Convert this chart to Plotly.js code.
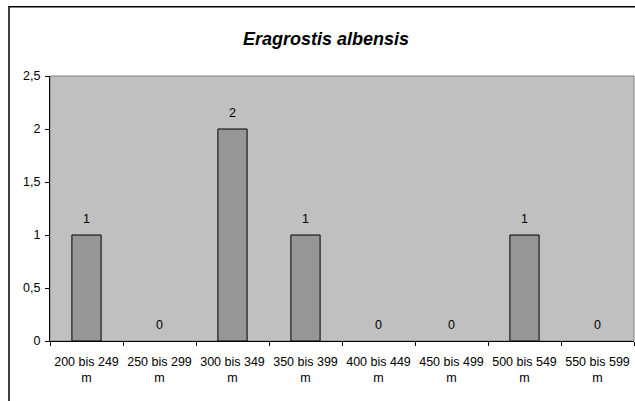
<!DOCTYPE html>
<html>
<head>
<meta charset="utf-8">
<script src="https://cdn.plot.ly/plotly-3.0.1.min.js"></script>
<style>html,body{margin:0;padding:0;background:#fff;}#chart{width:635px;height:401px;}</style>
</head>
<body>
<div id="chart"></div>
<script>
const categories = ["200 bis 249<br>m","250 bis 299<br>m","300 bis 349<br>m","350 bis 399<br>m","400 bis 449<br>m","450 bis 499<br>m","500 bis 549<br>m","550 bis 599<br>m"];
const counts = [1, 0, 2, 1, 0, 0, 1, 0];
const titleText = "Eragrostis albensis";

const font = {family: "Liberation Sans, Arial, sans-serif", size: 12.5, color: "#000"};

const trace = {
  type: "bar",
  x: categories,
  y: counts,
  width: 0.4,
  marker: {color: "#969696", line: {color: "#000", width: counts.map(v => v > 0 ? 1 : 0)}},
  hoverinfo: "none"
};

const annotations = categories.map((c, i) => ({
  x: c, y: counts[i], xref: "x", yref: "y",
  text: String(counts[i]), showarrow: false,
  yanchor: "bottom", yshift: 7,
  font: font
}));

const layout = {
  width: 635, height: 401,
  margin: {l: 50, r: 1, t: 76, b: 60, pad: 0},
  paper_bgcolor: "#fff",
  plot_bgcolor: "#C0C0C0",
  separators: ",.",
  showlegend: false,
  font: font,
  title: {
    text: "<b><i>" + titleText + "</i></b>",
    font: {family: "Liberation Sans, Arial, sans-serif", size: 18, color: "#000"},
    x: 326/635, xanchor: "center", xref: "container",
    y: 1 - 39/401, yanchor: "middle", yref: "container"
  },
  xaxis: {
    type: "category",
    showgrid: false, zeroline: false,
    showline: true, linecolor: "#000", linewidth: 1,
    ticks: "outside", tickson: "boundaries", ticklen: 4, tickcolor: "#000",
    tickfont: font, tickangle: 0, ticklabelstandoff: 9,
    range: [-0.5, 7.5]
  },
  yaxis: {
    range: [0, 2.5], dtick: 0.5, tick0: 0,
    showgrid: false, zeroline: false,
    showline: true, linecolor: "#000", linewidth: 1,
    ticks: "outside", ticklen: 4, tickcolor: "#000",
    tickfont: font, ticklabelstandoff: 2
  },
  annotations: annotations,
  shapes: [
    {type: "rect", xref: "paper", yref: "paper", x0: 0, x1: 1, y0: 0, y1: 1,
     line: {color: "#808080", width: 1}, layer: "below"},
    {type: "rect", xref: "paper", yref: "paper",
     x0: (9 - 50) / 584, x1: (645 - 50) / 584,
     y0: (341 - 410) / 265, y1: (341 - 6.7) / 265,
     line: {color: "#000", width: 1.5}}
  ]
};

Plotly.newPlot("chart", [trace], layout, {displayModeBar: false, staticPlot: true});
</script>
</body>
</html>
